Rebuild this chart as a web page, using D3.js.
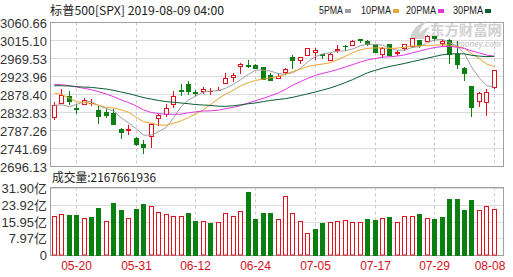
<!DOCTYPE html>
<html><head><meta charset="utf-8">
<script src="https://cdn.jsdelivr.net/npm/d3@7"></script>
<style>html,body{margin:0;padding:0;background:#fff;}svg{display:block;}</style>
</head><body>
<script>
const dates = ["05-15","05-16","05-17","05-20","05-21","05-22","05-23","05-24","05-28","05-29","05-30","05-31",
"06-03","06-04","06-05","06-06","06-07","06-10","06-11","06-12","06-13","06-14","06-17","06-18","06-19","06-20","06-21","06-24","06-25","06-26","06-27","06-28",
"07-01","07-02","07-03","07-05","07-08","07-09","07-10","07-11","07-12","07-15","07-16","07-17","07-18","07-19","07-22","07-23","07-24","07-25","07-26","07-29","07-30","07-31",
"08-01","08-02","08-05","08-06","08-07","08-08"];
const open  = [2820.4,2855.8,2874.0,2841.9,2854.0,2856.1,2836.7,2832.4,2830.0,2790.3,2786.9,2766.2,
2751.5,2772.0,2818.1,2828.5,2852.9,2889.0,2903.3,2882.7,2886.2,2886.8,2888.9,2906.7,2920.6,2949.6,2952.7,2951.4,2945.8,2926.1,2919.7,2932.9,
2971.4,2964.7,2978.1,2984.3,2979.8,2965.5,2989.3,3000.5,3003.4,3017.8,3012.1,3005.1,2978.9,3004.3,2981.9,2994.7,2998.8,3016.3,3013.3,3024.5,3007.7,3016.2,
2980.3,2943.9,2898.1,2861.2,2858.7,2896.2];
const high  = [2858.7,2892.2,2885.5,2853.9,2868.9,2865.5,2849.0,2841.4,2840.5,2792.0,2799.0,2769.0,
2763.1,2804.5,2827.3,2852.1,2885.0,2904.8,2910.6,2888.6,2895.2,2894.5,2897.3,2930.8,2931.7,2958.1,2964.2,2954.9,2946.5,2932.6,2929.3,2944.0,
2977.9,2973.2,2995.8,2994.0,2980.8,2981.9,3003.0,3002.3,3013.9,3017.8,3015.0,3005.3,2998.3,3006.0,2990.7,3005.9,3019.6,3016.3,3028.0,3025.6,3017.2,3017.4,
3013.6,2945.5,2898.1,2884.4,2892.2,2938.7];
const low   = [2815.1,2855.8,2854.2,2831.3,2854.0,2851.1,2805.5,2820.2,2801.6,2766.1,2776.7,2750.5,
2728.8,2745.0,2800.9,2822.5,2845.0,2877.0,2878.5,2874.7,2882.0,2879.6,2887.3,2905.4,2911.4,2931.5,2946.9,2944.1,2916.0,2913.0,2918.6,2929.1,
2944.0,2955.9,2978.0,2968.0,2970.1,2963.4,2984.6,2988.8,3001.9,3008.8,3001.2,2984.3,2973.1,2975.9,2976.7,2988.6,2996.8,2997.2,3012.6,3014.3,3000.9,2958.1,
2945.2,2914.1,2822.1,2847.4,2825.7,2894.5];
const close = [2851.0,2876.3,2859.5,2840.2,2864.4,2856.3,2822.2,2826.1,2802.4,2783.0,2788.9,2752.1,
2744.5,2803.3,2826.2,2843.5,2873.3,2886.7,2885.7,2879.8,2891.6,2887.0,2889.7,2917.8,2926.5,2954.2,2950.5,2945.4,2917.4,2913.8,2924.9,2941.8,
2964.3,2973.0,2995.8,2990.4,2976.0,2979.6,2993.1,2999.9,3013.8,3014.3,3004.0,2984.4,2995.1,2976.6,2985.0,3005.5,3019.6,3003.7,3025.9,3021.0,3013.2,2980.4,
2953.6,2932.1,2844.7,2881.8,2884.0,2938.1];
// closes of the 29 sessions before 05-15 (needed for the moving averages)
const priorCloses = [2873.40,2879.39,2892.74,2895.77,2878.20,2888.21,2888.32,2907.41,2905.58,2907.06,2900.45,2905.03,2907.97,2933.68,
2927.25,2926.17,2939.88,2943.03,2945.83,2923.73,2917.52,2945.64,2932.47,2884.05,2879.42,2870.72,2881.40,2811.87,2834.41];
// volume in 亿 (1e8)
const volume = [18.5,19.5,19.0,19.0,17.6,18.1,22.3,16.2,24.7,21.4,17.6,21.8,24.2,23.3,20.4,19.5,18.5,18.5,20.0,16.2,
16.2,15.2,15.7,20.0,18.5,20.9,29.9,17.3,20.0,20.0,17.3,28.0,20.0,16.0,10.5,12.4,15.2,15.7,16.2,16.7,
15.7,15.7,17.3,16.8,17.6,18.1,15.7,18.5,18.5,19.5,17.6,17.3,18.1,26.6,26.6,21.5,26.1,21.4,23.3,21.68];
const priceTicks = [3060.66,3015.10,2969.53,2923.96,2878.40,2832.83,2787.26,2741.69,2696.13];
const volTicks = [31.90,23.92,15.95,7.97,0];
const volTickLabels = ["31.90亿","23.92亿","15.95亿","7.97亿","0"];
const dateTicks = ["05-20","05-31","06-12","06-24","07-05","07-17","07-29","08-08"];
const maPeriods = [5,10,20,30];
const maNames = ["5PMA","10PMA","20PMA","30PMA"];
const maColors = ["#a0a0a0","#e8a530","#e035e0","#0b5e30"];
const titleText = "标普500[SPX] 2019-08-09 04:00";
const volText = "成交量:2167661936";

const RED = "#e3101c", GREEN = "#0b7f12";
const W = 513, H = 277;
const svg = d3.select("body").append("svg").attr("width", W).attr("height", H);

const L = 50.5, R = 503.5, PT = 22.5, PB = 166.5, VT = 187.5, VB = 255.5;
const x = d3.scaleBand().domain(d3.range(dates.length)).range([L, 498.1]).padding(0);
const y = d3.scaleLinear().domain([2696.13, 3060.66]).range([166, 22]);
const yv = d3.scaleLinear().domain([0, 31.90]).range([255.3, 187.7]);
const cx = i => Math.floor(x(i) + x.bandwidth() / 2) + 0.5;

const FONT = "'Liberation Sans','Noto Sans CJK SC',sans-serif";
const CJK = "'Noto Sans CJK SC','Liberation Sans',sans-serif";

// grids
const g = svg.append("g");
priceTicks.forEach(v => {
  const yy = Math.round(y(v)) + 0.5;
  g.append("line").attr("x1", L).attr("x2", R).attr("y1", yy).attr("y2", yy).attr("stroke", "#dcdcdc");
});
volTicks.forEach(v => {
  const yy = Math.round(yv(v)) + 0.5;
  g.append("line").attr("x1", L).attr("x2", R).attr("y1", yy).attr("y2", yy).attr("stroke", "#dcdcdc");
});
dateTicks.forEach(d => {
  const i = dates.indexOf(d);
  [[PT, PB], [VT, VB]].forEach(([a, b]) => {
    g.append("line").attr("x1", cx(i)).attr("x2", cx(i)).attr("y1", a).attr("y2", b)
      .attr("stroke", "#c8c8c8").attr("stroke-dasharray", "3,3");
  });
});
// frames
svg.append("rect").attr("x", L).attr("y", PT).attr("width", R - L).attr("height", PB - PT).attr("fill", "none").attr("stroke", "#a0a0a0");
svg.append("rect").attr("x", L).attr("y", VT).attr("width", R - L).attr("height", VB - VT).attr("fill", "none").attr("stroke", "#a0a0a0");

// watermark
const wm = svg.append("g").attr("fill", "#c9c9c9").attr("opacity", 0.85);
wm.append("path").attr("d", "M410,39 C412,29 418,23 428,21 C421,26 418,32 419,39 Z M416,39 C419,32 424,28 430,27 C426,31 424,35 424,39 Z");
wm.append("text").attr("x", 430).attr("y", 35).attr("font-family", CJK).attr("font-weight", "bold")
  .attr("font-size", 14).attr("textLength", 72).attr("lengthAdjust", "spacingAndGlyphs").text("东方财富网");
wm.append("text").attr("x", 442).attr("y", 47).attr("font-family", FONT).attr("font-weight", "bold").attr("font-style", "italic")
  .attr("font-size", 9).attr("textLength", 59).attr("lengthAdjust", "spacingAndGlyphs").text("eastmoney.com");

// price axis labels
priceTicks.forEach(v => {
  svg.append("text").attr("x", 47).attr("y", y(v) + 1).attr("dy", "0.35em").attr("text-anchor", "end")
    .attr("font-family", FONT).attr("font-size", 13).attr("fill", "#333").text(v.toFixed(2));
});
volTicks.forEach((v, k) => {
  svg.append("text").attr("x", 47).attr("y", yv(v) + 0.5).attr("dy", "0.35em").attr("text-anchor", "end")
    .attr("font-family", FONT).attr("font-size", 13).attr("fill", "#333").text(volTickLabels[k]);
});
dateTicks.forEach(d => {
  const i = dates.indexOf(d);
  let xx = cx(i);
  xx = Math.min(xx, 490);
  svg.append("text").attr("x", xx).attr("y", 270).attr("text-anchor", "middle")
    .attr("font-family", FONT).attr("font-size", 12).attr("fill", "#d4101c").text(d);
});

// title & legend
svg.append("text").attr("x", 50).attr("y", 15).attr("font-family", CJK).attr("font-size", 12).attr("fill", "#222")
  .attr("textLength", 174).attr("lengthAdjust", "spacingAndGlyphs").text(titleText);
const legX = [319, 361, 406, 453], legW = [24, 30, 30, 30];
maNames.forEach((n, k) => {
  svg.append("text").attr("x", legX[k]).attr("y", 14).attr("font-family", FONT).attr("font-size", 11).attr("fill", "#222")
    .attr("textLength", legW[k]).attr("lengthAdjust", "spacingAndGlyphs").text(n);
  svg.append("rect").attr("x", legX[k] + legW[k] + 2).attr("y", 9).attr("width", 6).attr("height", 4).attr("fill", maColors[k]);
});
svg.append("text").attr("x", 52).attr("y", 182).attr("font-family", CJK).attr("font-size", 12).attr("fill", "#222")
  .attr("textLength", 104).attr("lengthAdjust", "spacingAndGlyphs").text(volText);

// volume bars
const allClose = priorCloses.concat(close);
const off = priorCloses.length;
volume.forEach((v, i) => {
  const up = allClose[off + i] >= allClose[off + i - 1];
  const top = Math.round(yv(v));
  const bot = 255;
  if (up) {
    svg.append("rect").attr("x", cx(i) - 2).attr("y", top + 0.5).attr("width", 4).attr("height", bot - top - 0.5)
      .attr("fill", "#fff").attr("stroke", RED);
  } else {
    svg.append("rect").attr("x", cx(i) - 2.5).attr("y", top).attr("width", 5).attr("height", bot - top + 1).attr("fill", GREEN);
  }
});

// candles
dates.forEach((d, i) => {
  const up = close[i] >= open[i];
  const col = up ? RED : GREEN;
  const c = cx(i);
  const yT = Math.round(y(Math.max(open[i], close[i])));
  const yB = Math.round(y(Math.min(open[i], close[i])));
  svg.append("line").attr("x1", c).attr("x2", c).attr("y1", Math.round(y(high[i]))).attr("y2", Math.round(y(low[i])) + 1)
    .attr("stroke", col);
  if (yB - yT < 1) {
    svg.append("line").attr("x1", c - 2.5).attr("x2", c + 2.5).attr("y1", yT + 0.5).attr("y2", yT + 0.5).attr("stroke", col);
  } else if (up) {
    svg.append("rect").attr("x", c - 2).attr("y", yT + 0.5).attr("width", 4).attr("height", yB - yT)
      .attr("fill", "#fff").attr("stroke", col);
  } else {
    svg.append("rect").attr("x", c - 2.5).attr("y", yT).attr("width", 5).attr("height", yB - yT + 1).attr("fill", col);
  }
});

// moving averages
maPeriods.forEach((p, k) => {
  const pts = close.map((_, i) => {
    const s = allClose.slice(off + i - p + 1, off + i + 1);
    return [x(i) + x.bandwidth() / 2, y(d3.mean(s))];
  });
  svg.append("path").attr("d", d3.line()(pts)).attr("fill", "none").attr("stroke", maColors[k]).attr("stroke-width", 1);
});
</script>
</body></html>
